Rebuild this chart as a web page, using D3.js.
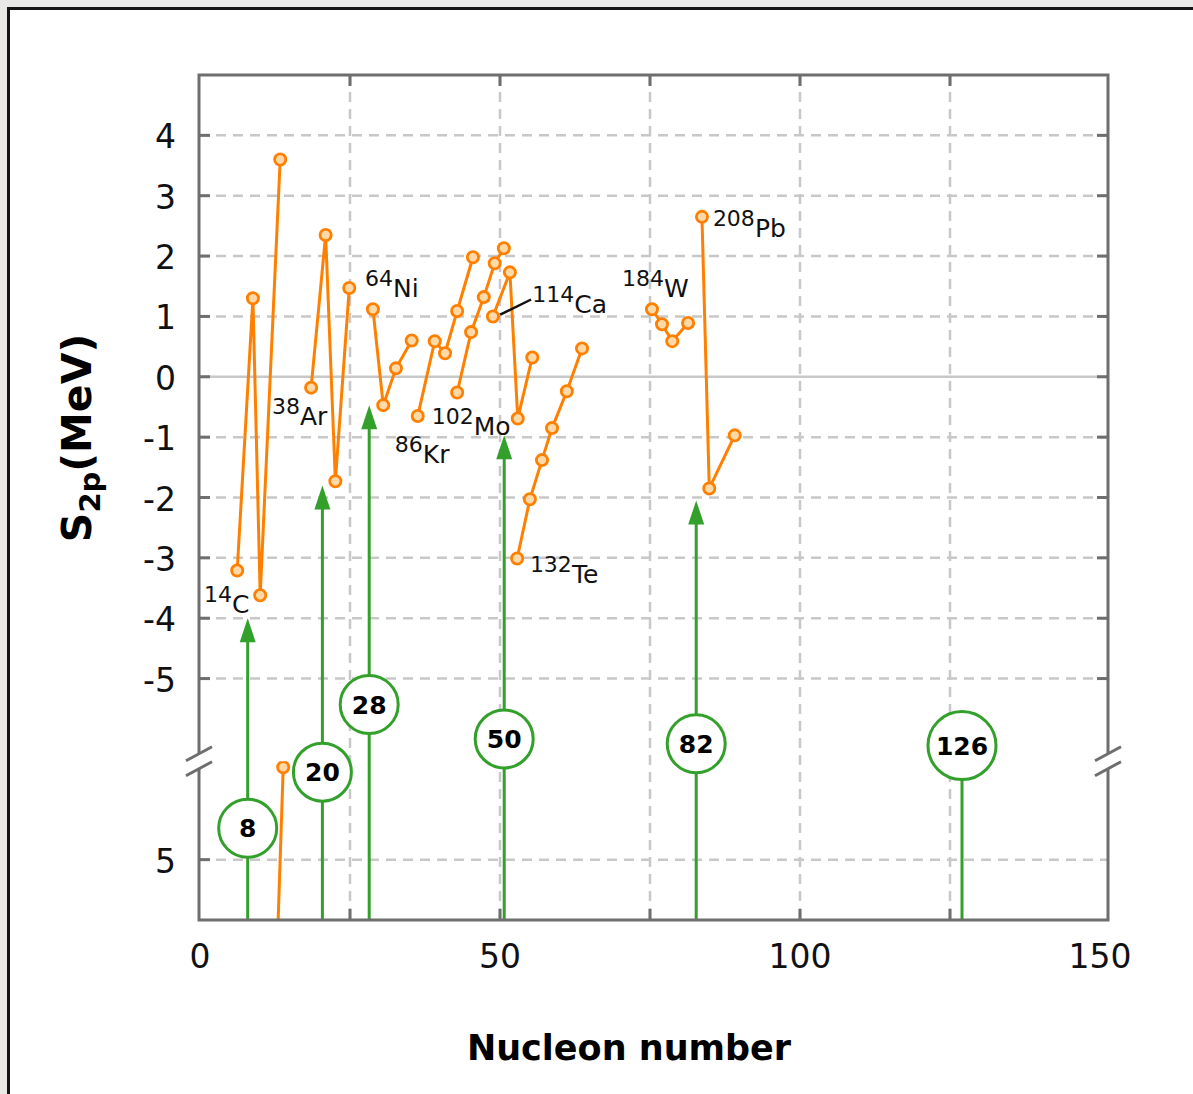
<!DOCTYPE html>
<html>
<head>
<meta charset="utf-8">
<script src="https://cdn.jsdelivr.net/npm/d3@7"></script>
<style>
  body { margin: 0; background: #e9e9e7; }
  #box { position: absolute; left: 7px; top: 7px; width: 1300px; height: 1200px;
         background: #fff; border: 3px solid #151515; }
  svg { position: absolute; left: 0; top: 0; }
  text { font-family: "DejaVu Sans", Verdana, sans-serif; }
</style>
</head>
<body>
<div id="box"></div>
<div id="chart"></div>
<script>
// isotope chains, [nucleon number, S2p in MeV]
var chainC = [[6.2, -3.21], [8.82, 1.30], [10.03, -3.62], [13.37, 3.60]];
var chainAr = [[18.52, -0.18], [20.94, 2.35], [22.56, -1.73], [24.88, 1.47]];
var chainNi = [[28.82, 1.12], [30.54, -0.47], [32.66, 0.14], [35.28, 0.60]];
var chainKr = [[36.29, -0.65], [39.12, 0.59], [40.84, 0.39], [42.86, 1.09], [45.49, 1.98]];
var chainMo = [[42.86, -0.26], [45.18, 0.74], [47.3, 1.32], [49.12, 1.88], [50.64, 2.13]];
var chainCa = [[48.82, 1.00], [51.65, 1.73], [52.96, -0.69], [55.38, 0.32]];
var chainTe = [[52.86, -3.01], [54.98, -2.03], [57.0, -1.38], [58.67, -0.85], [61.14, -0.24], [63.67, 0.47]];
var chainW = [[75.33, 1.12], [77.0, 0.87], [78.71, 0.59], [81.34, 0.89]];
var chainPb = [[83.66, 2.65], [84.88, -1.85], [89.12, -0.97]];
// chain in the lower (broken) part of the axis
var chainLow = [[13.87, 6.53], [12.86, 3.5]];

// magic numbers, where their lines stand, where arrows end, where badges sit
var magic = [8, 20, 28, 50, 82, 126];
var magicAt = [7.95, 20.4, 28.2, 50.7, 82.7, 127.0];
var magicTip = [-4.0, -1.8, -0.47, -0.97, -2.05, null];
var magicBadge = [-7.48, -6.55, -5.43, -6.0, -6.08, -6.11];

// labels: mass, symbol, anchor [N, S2p]
var labels = [
  ['14', 'C', [0.67, -3.92]],
  ['38', 'Ar', [12.0, -0.80]],
  ['64', 'Ni', [27.5, 1.32]],
  ['86', 'Kr', [32.46, -1.43]],
  ['102', 'Mo', [38.62, -0.97]],
  ['114', 'Ca', [55.38, 1.05]],
  ['132', 'Te', [54.98, -3.42]],
  ['184', 'W', [70.33, 1.32]],
  ['208', 'Pb', [85.48, 2.31]]
];
var caLeader = [[50.03, 1.03], [55.18, 1.28]];

var xTicks = [0, 50, 100, 150];
var xGrid = [25, 50, 75, 100, 125];
var yTicks = [4, 3, 2, 1, 0, -1, -2, -3, -4, -5];
var lowTicks = [5];
var lowOffset = 13;   // lower axis value v is drawn at v - 13
var breakAt = -6.37;

var W = 1193, H = 1094;
var pL = 199, pR = 1108, pT = 75, pB = 920;

var x = d3.scaleLinear().domain([0, 150]).range([200, 1100]);
var y = d3.scaleLinear().domain([-9, 5]).range([pB, pT]);

var orange = '#ff8000', green = '#33a02c', frame = '#6e6e6e', grid = '#c8c8c8';

var svg = d3.select('#chart').append('svg')
    .attr('width', W)
    .attr('height', H);

svg.append('clipPath').attr('id', 'upper')
    .append('rect').attr('x', pL).attr('y', pT)
    .attr('width', pR - pL).attr('height', y(breakAt) - pT);
svg.append('clipPath').attr('id', 'lower')
    .append('rect').attr('x', pL).attr('y', y(breakAt))
    .attr('width', pR - pL).attr('height', pB - y(breakAt));

// grid
var g = svg.append('g');
g.selectAll('.vg').data(xGrid).enter().append('line')
    .attr('x1', d => x(d)).attr('x2', d => x(d))
    .attr('y1', pT).attr('y2', pB)
    .attr('stroke', grid).attr('stroke-width', 2.5).attr('stroke-dasharray', '10,7');
g.selectAll('.hg').data(yTicks.filter(d => d !== 0).concat(lowTicks.map(d => d - lowOffset)))
    .enter().append('line')
    .attr('x1', pL).attr('x2', pR)
    .attr('y1', d => y(d)).attr('y2', d => y(d))
    .attr('stroke', grid).attr('stroke-width', 2.5).attr('stroke-dasharray', '10,7');
g.append('line')
    .attr('x1', pL).attr('x2', pR)
    .attr('y1', y(0)).attr('y2', y(0))
    .attr('stroke', grid).attr('stroke-width', 2.5);

// magic number lines
var mg = svg.append('g');
magic.forEach(function (m, i) {
    var r = String(m).length === 3 ? 34 : 29;
    var cx = x(magicAt[i]), cy = y(magicBadge[i]);
    mg.append('line')
        .attr('x1', cx).attr('x2', cx)
        .attr('y1', pB).attr('y2', cy + r)
        .attr('stroke', green).attr('stroke-width', 3);
    if (magicTip[i] !== null) {
        var ty = y(magicTip[i]);
        mg.append('line')
            .attr('x1', cx).attr('x2', cx)
            .attr('y1', cy - r).attr('y2', ty + 18)
            .attr('stroke', green).attr('stroke-width', 3);
        mg.append('path')
            .attr('d', `M${cx},${ty} L${cx + 8},${ty + 24} L${cx - 8},${ty + 24} Z`)
            .attr('fill', green);
    }
});

// chains
var line = d3.line().x(d => x(d[0])).y(d => y(d[1]));
var chains = [chainC, chainAr, chainNi, chainKr, chainMo, chainCa, chainTe, chainW, chainPb];
var cg = svg.append('g').attr('clip-path', 'url(#upper)');
chains.forEach(function (c) {
    cg.append('path').attr('d', line(c))
        .attr('fill', 'none').attr('stroke', orange).attr('stroke-width', 3);
    cg.selectAll(null).data(c).enter().append('circle')
        .attr('cx', d => x(d[0])).attr('cy', d => y(d[1])).attr('r', 5.6)
        .attr('fill', '#ffd9a8').attr('stroke', orange).attr('stroke-width', 2.8);
});
var lowData = chainLow.map(d => [d[0], d[1] - lowOffset]);
var lg = svg.append('g').attr('clip-path', 'url(#lower)');
lg.append('path').attr('d', line(lowData))
    .attr('fill', 'none').attr('stroke', orange).attr('stroke-width', 3);
lg.append('circle')
    .attr('cx', x(lowData[0][0])).attr('cy', y(lowData[0][1])).attr('r', 5.6)
    .attr('fill', '#ffd9a8').attr('stroke', orange).attr('stroke-width', 2.8);

// badges
magic.forEach(function (m, i) {
    var r = String(m).length === 3 ? 34 : 29;
    mg.append('circle')
        .attr('cx', x(magicAt[i])).attr('cy', y(magicBadge[i])).attr('r', r)
        .attr('fill', '#fff').attr('stroke', green).attr('stroke-width', 3);
    mg.append('text')
        .attr('x', x(magicAt[i])).attr('y', y(magicBadge[i]) + 9)
        .attr('text-anchor', 'middle')
        .attr('font-size', 25).attr('font-weight', 'bold')
        .text(m);
});

// isotope labels
labels.forEach(function (l) {
    var t = svg.append('text')
        .attr('x', x(l[2][0])).attr('y', y(l[2][1]))
        .attr('fill', '#111');
    t.append('tspan').attr('font-size', 22).attr('dy', -11).text(l[0]);
    t.append('tspan').attr('font-size', 25).attr('dy', 11).text(l[1]);
});
svg.append('line')
    .attr('x1', x(caLeader[0][0])).attr('y1', y(caLeader[0][1]))
    .attr('x2', x(caLeader[1][0])).attr('y2', y(caLeader[1][1]))
    .attr('stroke', '#111').attr('stroke-width', 2.4);

// frame with break marks
var yb1 = y(breakAt) - 7.5, yb2 = y(breakAt) + 7.5;
var fr = svg.append('g').attr('stroke', frame).attr('stroke-width', 3).attr('fill', 'none');
fr.append('path').attr('d',
    `M${pL},${yb1} L${pL},${pT} L${pR},${pT} L${pR},${yb1}` +
    ` M${pL},${yb2} L${pL},${pB} L${pR},${pB} L${pR},${yb2}`);
[pL, pR].forEach(function (ax) {
    [yb1, yb2].forEach(function (yy) {
        fr.append('line')
            .attr('x1', ax - 13).attr('y1', yy + 7)
            .attr('x2', ax + 13).attr('y2', yy - 7);
    });
});

// ticks
var tk = svg.append('g').attr('stroke', frame).attr('stroke-width', 3);
yTicks.forEach(function (d) {
    tk.append('line').attr('x1', pL).attr('x2', pL + 11).attr('y1', y(d)).attr('y2', y(d));
    tk.append('line').attr('x1', pR).attr('x2', pR - 11).attr('y1', y(d)).attr('y2', y(d));
});
lowTicks.forEach(function (d) {
    tk.append('line').attr('x1', pL).attr('x2', pL + 11)
        .attr('y1', y(d - lowOffset)).attr('y2', y(d - lowOffset));
});
xGrid.forEach(function (d) {
    tk.append('line').attr('x1', x(d)).attr('x2', x(d)).attr('y1', pB).attr('y2', pB - 11);
    tk.append('line').attr('x1', x(d)).attr('x2', x(d)).attr('y1', pT).attr('y2', pT + 11);
});

// tick labels
svg.selectAll('.xl').data(xTicks).enter().append('text')
    .attr('x', d => x(d)).attr('y', 968)
    .attr('text-anchor', 'middle').attr('font-size', 33).attr('fill', '#111')
    .text(d => d);
svg.selectAll('.yl').data(yTicks).enter().append('text')
    .attr('x', 176).attr('y', d => y(d) + 13)
    .attr('text-anchor', 'end').attr('font-size', 33).attr('fill', '#111')
    .text(d => d);
svg.selectAll('.ll').data(lowTicks).enter().append('text')
    .attr('x', 176).attr('y', d => y(d - lowOffset) + 13)
    .attr('text-anchor', 'end').attr('font-size', 33).attr('fill', '#111')
    .text(d => d);

// axis titles
svg.append('text')
    .attr('x', 629).attr('y', 1060)
    .attr('text-anchor', 'middle').attr('font-size', 35).attr('font-weight', 'bold')
    .text('Nucleon number');
var yt = svg.append('text')
    .attr('transform', 'translate(91,438) rotate(-90)')
    .attr('text-anchor', 'middle').attr('font-size', 41).attr('font-weight', 'bold');
yt.append('tspan').text('S');
yt.append('tspan').attr('font-size', 29).attr('dy', 9).text('2p');
yt.append('tspan').attr('dy', -9).text('(MeV)');
</script>
</body>
</html>
